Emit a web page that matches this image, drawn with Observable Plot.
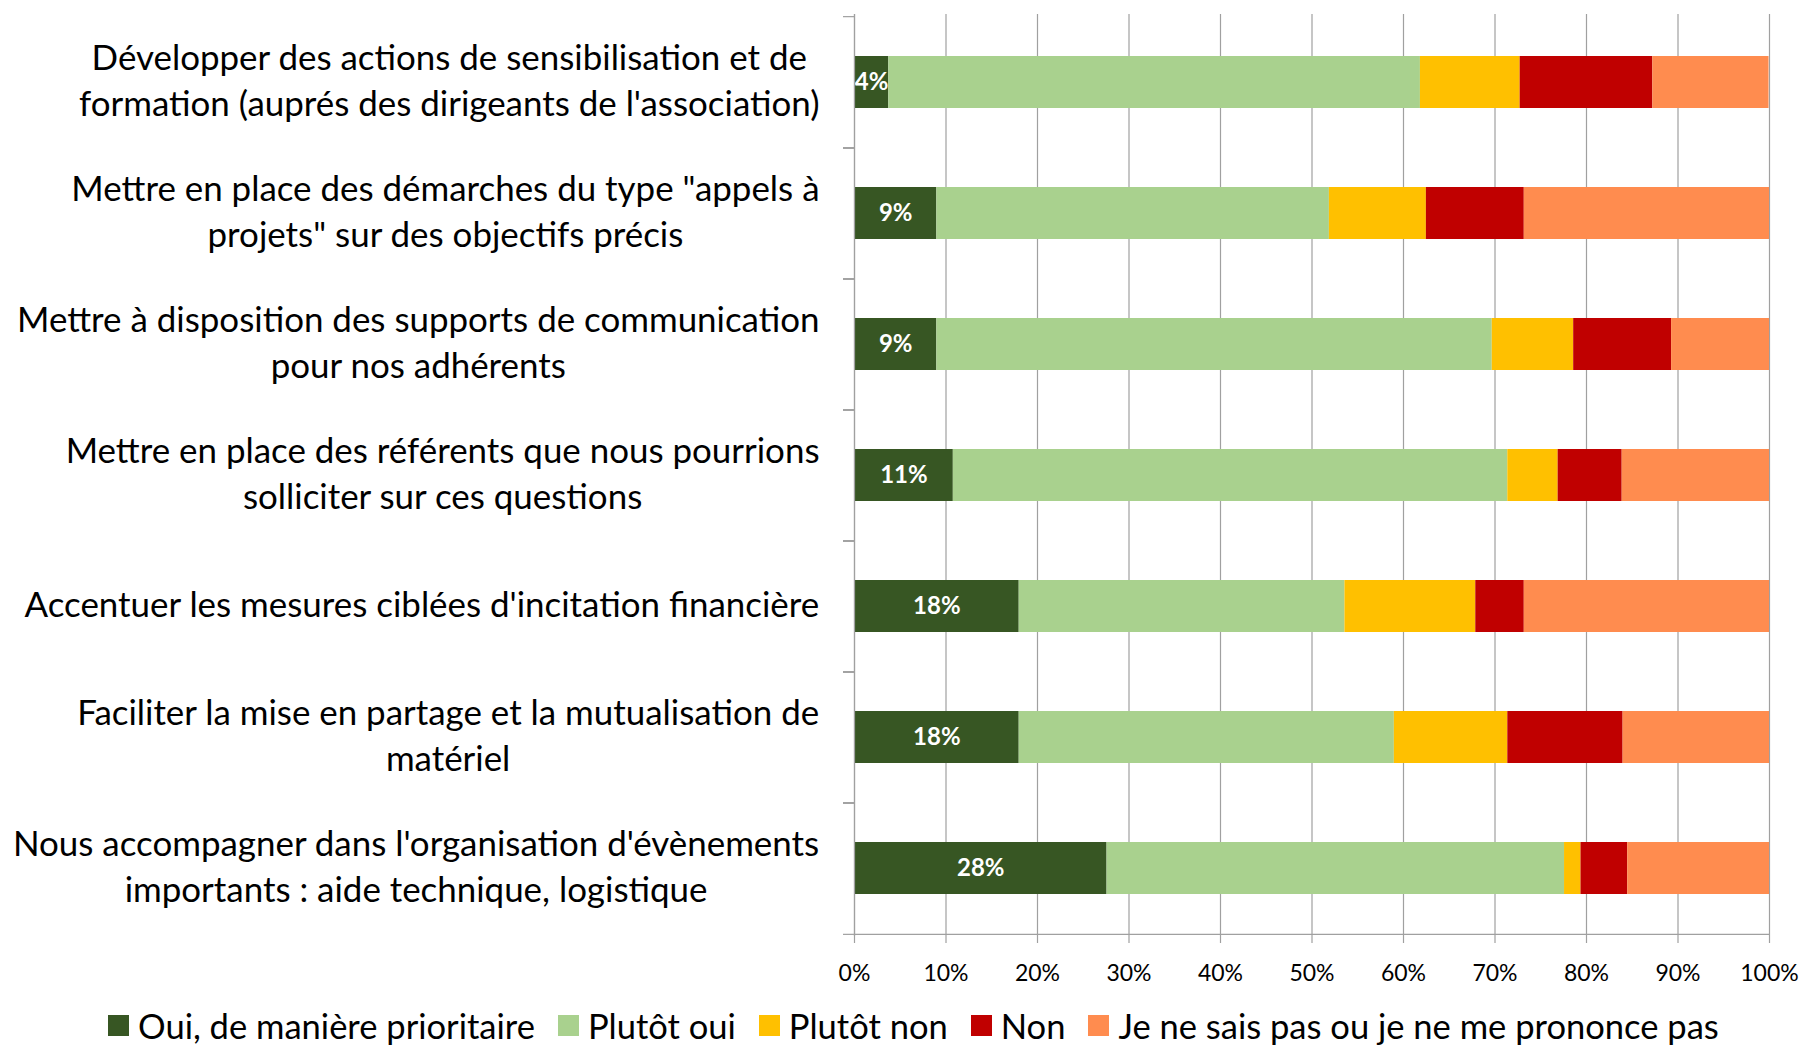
<!DOCTYPE html>
<html><head><meta charset="utf-8">
<script src="https://cdn.jsdelivr.net/npm/d3@7"></script>
<script src="https://cdn.jsdelivr.net/npm/@observablehq/plot@0.6"></script>
<style>
body{margin:0;background:#fff;font-family:Lato, sans-serif;}
#legend{display:flex;justify-content:flex-start;align-items:center;padding-left:108px;margin-top:6px;color:#000;white-space:nowrap;line-height:1.15;}
#legend .item{display:flex;align-items:center;margin-right:23px;}
#legend .sw{width:21px;height:21px;margin-right:9px;}
</style>
</head><body>
<div id="chart"></div>
<div id="legend"></div>
<script>
const categories = [
  "Développer des actions de sensibilisation et de\nformation (auprés des dirigeants de l'association)",
  "Mettre en place des démarches du type \"appels à\nprojets\" sur des objectifs précis",
  "Mettre à disposition des supports de communication\npour nos adhérents",
  "Mettre en place des référents que nous pourrions\nsolliciter sur ces questions",
  "Accentuer les mesures ciblées d'incitation financière",
  "Faciliter la mise en partage et la mutualisation de\nmatériel",
  "Nous accompagner dans l'organisation d'évènements\nimportants : aide technique, logistique"
];
const responses = ["Oui, de manière prioritaire", "Plutôt oui", "Plutôt non", "Non", "Je ne sais pas ou je ne me prononce pas"];
const colors = ["#375623", "#A9D18E", "#FFC000", "#C00000", "#FF8C4F"];
const oui       = [3.75, 9.0, 9.0, 10.8, 18.0, 18.0, 27.6];
const plutotOui = [58.1, 42.9, 60.7, 60.6, 35.6, 41.0, 50.0];
const plutotNon = [10.9, 10.6, 8.9, 5.5, 14.3, 12.4, 1.8];
const non       = [14.5, 10.7, 10.7, 7.0, 5.3, 12.6, 5.1];
const nsp       = [12.7, 26.8, 10.7, 16.1, 26.8, 16.0, 15.5];
const xTicks = [0, 10, 20, 30, 40, 50, 60, 70, 80, 90, 100];

const series = [oui, plutotOui, plutotNon, non, nsp];
const rows = [];
categories.forEach((c, i) => series.forEach((s, j) => rows.push({cat: c, resp: responses[j], value: s[i]})));
const ouiRows = categories.map((c, i) => ({cat: c, value: oui[i]}));

const W = 1802, H = 1000, ML = 854, MR = 33, MT = 14, MB = 64;
const step = (H - MT - MB) / categories.length;
const gray = "#A0A0A0";
const ctx = document.createElement("canvas").getContext("2d");
ctx.font = "100px Lato";
// fit label font so the widest line matches the reference width
const widest = d3.max(categories.flatMap(c => c.split("\n")), l => ctx.measureText(l).width);
const labelFont = 100 * 807 / widest;
const legendFont = 100 * 397 / ctx.measureText(responses[0]).width;
ctx.font = `${labelFont}px Lato`;
const labelMarks = categories.map(c => {
  const w = d3.max(c.split("\n"), l => ctx.measureText(l).width);
  return Plot.text([c], {y: d => d, text: d => d, frameAnchor: "left", textAnchor: "middle",
    dx: -(35 + w / 2), dy: -4, fontSize: labelFont, lineHeight: 46 / labelFont, fill: "#000"});
});

const chart = Plot.plot({
  width: W, height: H, marginLeft: ML, marginRight: MR, marginTop: MT, marginBottom: MB,
  style: {fontFamily: "Lato, sans-serif", background: "#fff", color: "#000"},
  x: {domain: [0, 100], label: null},
  y: {domain: categories, paddingInner: 0.6, paddingOuter: 0.3, label: null},
  color: {domain: responses, range: colors},
  marks: [
    Plot.gridX(xTicks, {stroke: gray, strokeOpacity: 1, strokeWidth: 1.2}),
    Plot.barX(rows, {y: "cat", x: "value", fill: "resp", order: responses}),
    Plot.text(ouiRows, {y: "cat", x: d => d.value / 2, text: d => Math.round(d.value) + "%", fill: "#fff",
      fontWeight: "bold", fontSize: 24}),
    Plot.ruleX([0], {stroke: gray, strokeWidth: 1.2}),
    Plot.ruleY([categories[categories.length - 1]], {dy: step / 2, stroke: gray, strokeWidth: 1.2}),
    Plot.axisY({tickSize: 11, tickFormat: () => "", dy: -step / 2, stroke: gray, strokeWidth: 1.2, label: null}),
    Plot.axisY({tickSize: 11, tickFormat: () => "", dy: step / 2, stroke: gray, strokeWidth: 1.2, label: null}),
    Plot.axisX(xTicks, {tickSize: 7, tickFormat: d => d + "%", stroke: gray, strokeWidth: 1.2, fontSize: 23,
      fill: "#000", tickPadding: 21, label: null}),
    ...labelMarks
  ]
});
document.getElementById("chart").appendChild(chart);

const legend = document.getElementById("legend");
legend.style.fontSize = legendFont + "px";
responses.forEach((r, i) => {
  const it = document.createElement("div"); it.className = "item";
  const sw = document.createElement("div"); sw.className = "sw"; sw.style.background = colors[i];
  const tx = document.createElement("span"); tx.textContent = r;
  it.appendChild(sw); it.appendChild(tx); legend.appendChild(it);
});
</script>
</body></html>
